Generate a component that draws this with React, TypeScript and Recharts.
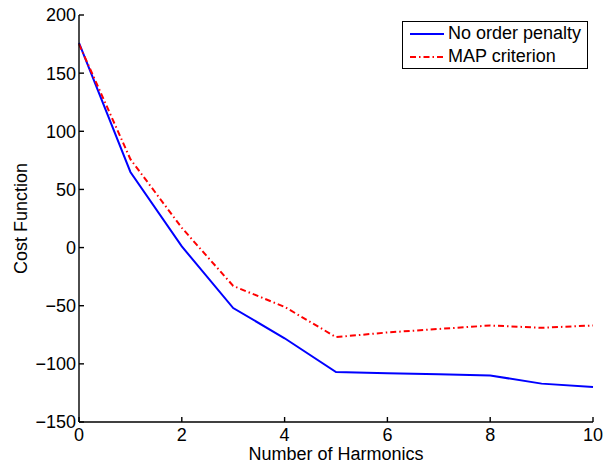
import React from 'react'
import { LineChart, Line, XAxis, YAxis, Legend } from 'recharts'

// number of harmonics on the x axis
const harmonics = [0, 1, 2, 3, 4, 5, 6, 7, 8, 9, 10]
const noOrderPenalty = [176, 65, 1, -52, -78, -107, -108, -109, -110, -117, -120]
const mapCriterion = [175, 76, 17, -33, -51, -77, -73, -70, -67, -69, -67]

const xTicks = [0, 2, 4, 6, 8, 10]
const yTicks = [-150, -100, -50, 0, 50, 100, 150, 200]

const data = harmonics.map((h, i) => ({
  h,
  noPenalty: noOrderPenalty[i],
  map: mapCriterion[i],
}))

const font = '"Liberation Sans", Arial, Helvetica, sans-serif'
const fmt = (v: number) => (v < 0 ? `\u2212${-v}` : `${v}`)

function LegendBox() {
  const row = (color: string, dash: string | undefined, label: string) => (
    <div style={{ display: 'flex', alignItems: 'center', height: 23 }}>
      <svg width={36} height={10} style={{ marginLeft: 6, marginRight: 3 }}>
        <line x1={1} y1={5} x2={35} y2={5} stroke={color} strokeWidth={2} strokeDasharray={dash} />
      </svg>
      <span>{label}</span>
    </div>
  )
  return (
    <div
      style={{
        border: '1px solid #000',
        background: '#fff',
        width: 184,
        height: 46,
        fontFamily: font,
        fontSize: 18,
        color: '#000',
        lineHeight: '23px',
        whiteSpace: 'nowrap',
      }}
    >
      {row('#0000ff', undefined, 'No order penalty')}
      {row('#ff0000', '6 3 1.5 3', 'MAP criterion')}
    </div>
  )
}

export default function App() {
  return (
    <div style={{ position: 'absolute', left: 0, top: 0, background: '#fff' }}>
      <LineChart width={603} height={463} data={data} margin={{ top: 15, right: 10, bottom: 0, left: 0 }}>
        <XAxis
          dataKey="h"
          type="number"
          domain={[0, 10]}
          ticks={xTicks}
          height={41}
          tickSize={-5}
          tickMargin={11}
          stroke="#000"
          strokeWidth={1.4}
          tick={{ fill: '#000', fontSize: 18, fontFamily: font }}
          label={{ value: 'Number of Harmonics', position: 'insideBottom', offset: 3, fill: '#000', fontSize: 18, fontFamily: font }}
        />
        <XAxis
          xAxisId="top"
          orientation="top"
          dataKey="h"
          type="number"
          domain={[0, 10]}
          ticks={xTicks}
          height={0}
          tickSize={-5}
          tick={false}
          stroke="#000"
          strokeWidth={1.4}
        />
        <YAxis
          type="number"
          domain={[-150, 200]}
          ticks={yTicks}
          width={79}
          tickSize={-5}
          tickMargin={8}
          stroke="#000"
          strokeWidth={1.4}
          tickFormatter={fmt}
          tick={{ fill: '#000', fontSize: 18, fontFamily: font }}
          label={{ value: 'Cost Function', angle: -90, position: 'center', dx: -19, fill: '#000', fontSize: 18, fontFamily: font }}
        />
        <YAxis
          yAxisId="right"
          orientation="right"
          type="number"
          domain={[-150, 200]}
          ticks={yTicks}
          width={0}
          tickSize={-5}
          tick={false}
          stroke="#000"
          strokeWidth={1.4}
        />
        <Legend
          layout="vertical"
          align="center"
          verticalAlign="middle"
          wrapperStyle={{ left: 402, top: 21, width: 186, height: 48 }}
          content={() => <LegendBox />}
        />
        <Line
          dataKey="noPenalty"
          stroke="#0000ff"
          strokeWidth={2}
          dot={false}
          isAnimationActive={false}
          type="linear"
        />
        <Line
          dataKey="map"
          stroke="#ff0000"
          strokeWidth={2}
          strokeDasharray="6 3 1.5 3"
          dot={false}
          isAnimationActive={false}
          type="linear"
        />
      </LineChart>
    </div>
  )
}
